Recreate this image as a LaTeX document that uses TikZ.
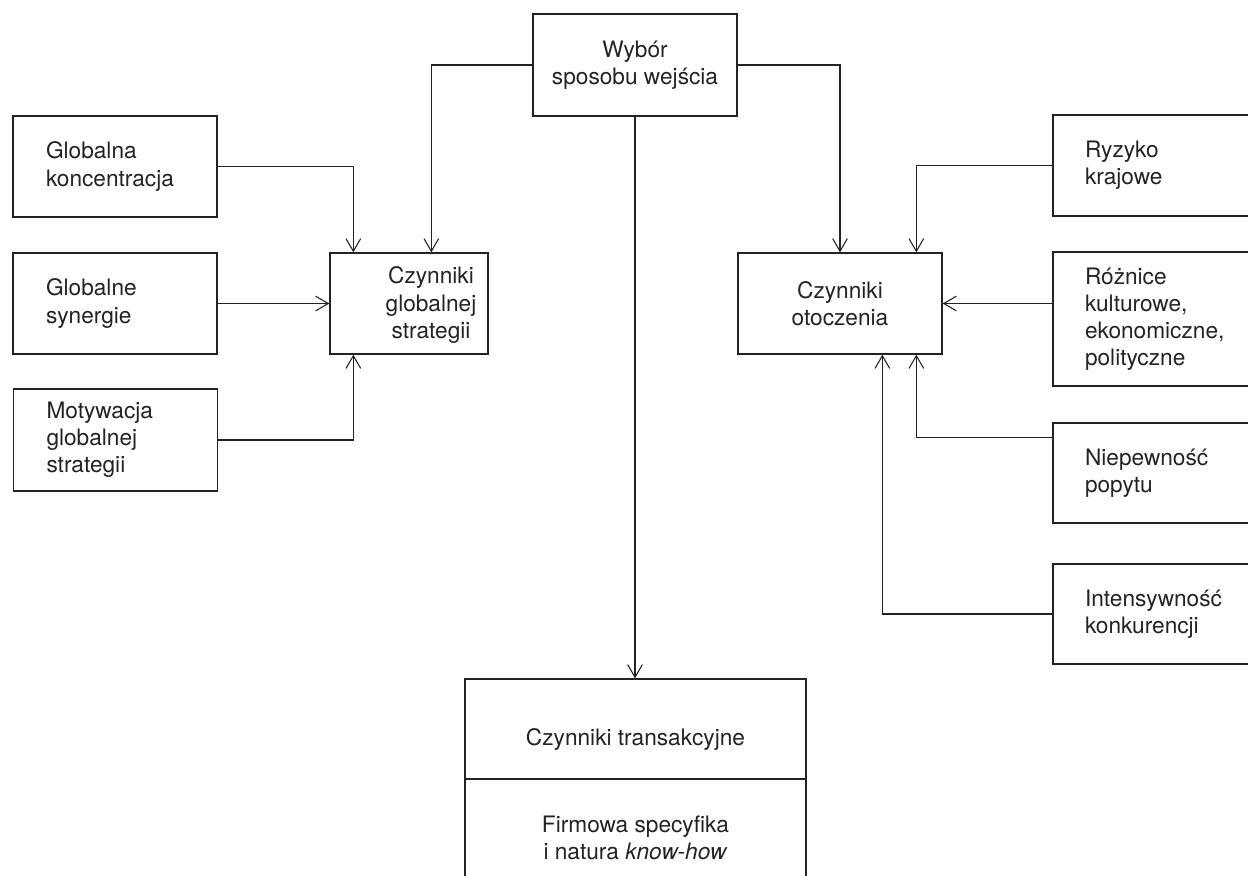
\documentclass[tikz,border=0pt]{standalone}
\usepackage{fontspec}
\setmainfont{TeX Gyre Heros}
\usetikzlibrary{arrows.meta}
\definecolor{ink}{RGB}{35,35,35}
\begin{document}
\begin{tikzpicture}[x=0.75pt,y=-0.75pt,
  every node/.style={font=\fontsize{17pt}{20.3pt}\selectfont, text=ink},
  box/.style={draw=ink, line width=1pt, rectangle, inner sep=0pt},
  cbox/.style={box, align=center},
  lbox/.style={box, align=left, inner xsep=24.75pt, text width=103.5pt, minimum height=75.75pt},
  rbox/.style={box, align=left, inner xsep=24pt, text width=132pt},
  conn/.style={draw=ink, line width=0.8pt},
  arr/.style={conn, -{Straight Barb[length=9.5pt,width=11pt,line width=0.8pt]}}
]
\useasboundingbox (0,0) rectangle (1248,875);
\clip (0,0) rectangle (1248,875);
\fill[white] (0,0) rectangle (1248,875);

% top
\node[cbox, minimum width=153pt, minimum height=76.5pt] (wybor) at (635,65) {Wybór\\sposobu wejścia};

% left column
\node[lbox] (g1) at (115,166.5) {Globalna\\koncentracja};
\node[lbox] (g2) at (115,303.5) {Globalne\\synergie};
\node[lbox, minimum height=76.5pt] (g3) at (115.5,440) {Motywacja\\globalnej\\strategii};

% global strategy factors
\node[box, minimum width=118.5pt, minimum height=75.75pt] (gs) at (409,303.5) {};
\node[align=center, inner sep=0pt] (gslbl) at (431,305) {Czynniki\\globalnej\\strategii};

% environment factors
\node[cbox, minimum width=153pt, minimum height=75.75pt] (env) at (840,303.5) {Czynniki\\otoczenia};

% right column
\node[rbox, minimum height=75.75pt] (r1) at (1173,165.5) {Ryzyko\\krajowe};
\node[rbox, minimum height=100.5pt] (r2) at (1173,319) {Różnice\\kulturowe,\\ekonomiczne,\\polityczne};
\node[rbox, minimum height=75pt] (r3) at (1173,473) {Niepewność\\popytu};
\node[rbox, minimum height=75pt] (r4) at (1173,614) {Intensywność\\konkurencji};

% transaction factors
\node[cbox, minimum width=255.75pt, minimum height=75pt, text height=24pt, text depth=0pt] (t1) at (635.5,729) {Czynniki transakcyjne};
\node[cbox, minimum width=255.75pt, minimum height=88.5pt] (t2) at (635.5,838) {Firmowa specyfika\\i natura \textit{know-how}};

% connectors, left
\draw[arr] (g1.east) -| ([xshift=18pt]gs.north west);
\draw[arr] (g2.east) -- (g2.east -| gs.west);
\draw[arr] (g3.east) -| ([xshift=18pt]gs.south west);
\draw[arr] (wybor.west) -| ([xshift=76.5pt]gs.north west);

% connectors, centre
\draw[arr] (wybor.east) -| (env.north);
\draw[arr] (wybor.south) -- (wybor.south |- t1.north);

% connectors, right
\draw[arr] (r1.west) -| ([xshift=134.25pt]env.north west);
\draw[arr] (r2.west |- env.east) -- (env.east);
\draw[arr] ([yshift=-11.25pt]r3.north west) -| ([xshift=134.25pt]env.south west);
\draw[arr] (r4.west) -| ([xshift=108.75pt]env.south west);
\end{tikzpicture}
\end{document}
